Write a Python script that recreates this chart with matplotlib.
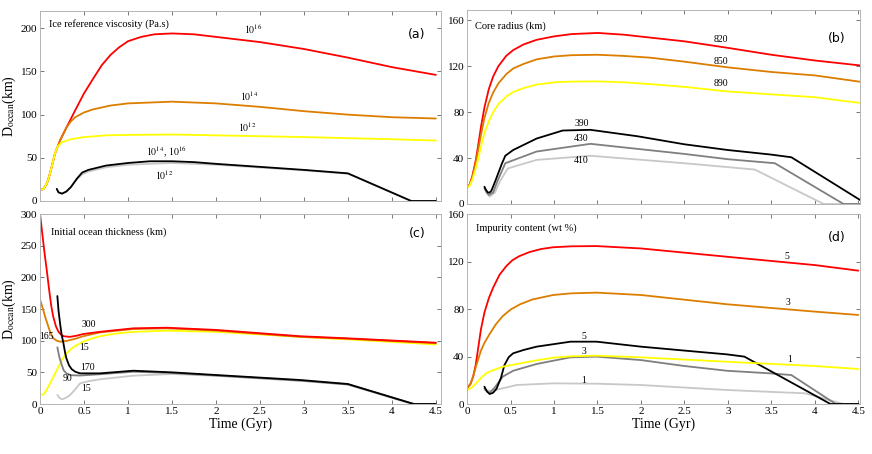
import matplotlib
matplotlib.use('Agg')
import matplotlib.pyplot as plt
import numpy as np

plt.rcParams['font.family'] = ['Liberation Serif', 'DejaVu Serif']
plt.rcParams['mathtext.fontset'] = 'stix'

# colours for the six runs
RED, ORANGE, YELLOW = '#ff0000', '#dc7d00', '#ffff00'
BLACK, GRAY, LGRAY = '#000000', '#7f7f7f', '#c8c8c8'

# ---- (a) ice reference viscosity ----
a_red_t = [0, 0.04, 0.076, 0.1, 0.133, 0.17, 0.227, 0.3, 0.4, 0.5, 0.6, 0.7, 0.8, 0.9, 1.0, 1.15, 1.3, 1.5, 1.75, 2.0, 2.5, 3.0, 3.5, 4.0, 4.5]
a_red = [12.4, 14, 20, 27, 39.5, 55, 70, 85, 105, 124.6, 141, 157, 169, 178, 185, 190, 193, 194, 193, 190, 184, 176, 166, 155, 146]
a_orange_t = [0, 0.04, 0.076, 0.1, 0.133, 0.17, 0.227, 0.3, 0.35, 0.4, 0.5, 0.6, 0.8, 1.0, 1.5, 2.0, 2.5, 3.0, 3.5, 4.0, 4.5]
a_orange = [12.4, 14, 20, 27, 39.5, 55, 70, 85, 92, 97, 102.5, 106, 110.5, 113, 115, 113, 109, 104, 100, 97, 95.5]
a_yellow_t = [0, 0.04, 0.076, 0.1, 0.133, 0.17, 0.2, 0.25, 0.35, 0.5, 0.75, 1.0, 1.5, 2.0, 3.0, 4.0, 4.5]
a_yellow = [12.4, 14, 20, 27, 39.5, 55, 63, 68, 71.5, 74, 76, 76.5, 77, 76, 74, 71.5, 70]
a_lgray_t = [0.19, 0.21, 0.25, 0.3, 0.35, 0.42, 0.48, 0.55, 0.75, 1.0, 1.5, 2.0, 3.0, 3.5, 4.22, 4.5]
a_lgray = [14, 10, 8.5, 11, 16, 25, 31, 34, 39, 42, 44, 42, 35.5, 31.5, 0, 0]
a_black_t = [0.19, 0.21, 0.25, 0.3, 0.35, 0.42, 0.48, 0.55, 0.75, 1.0, 1.25, 1.5, 1.75, 2.0, 2.5, 3.0, 3.5, 4.22, 4.5]
a_black = [14, 10, 8.5, 11, 16, 26, 33, 36, 41, 44, 46, 46, 45, 43, 39.5, 36, 32, 0, 0]

# ---- (b) core radius ----
b_red_t = [0, 0.03, 0.06, 0.1, 0.13, 0.16, 0.2, 0.25, 0.3, 0.36, 0.45, 0.53, 0.65, 0.8, 1.0, 1.2, 1.5, 1.8, 2.1, 2.5, 3.0, 3.5, 4.0, 4.52]
b_red = [14.5, 17, 24, 38, 52, 67, 84, 100, 111, 120, 129, 134, 139, 143, 146, 148, 149, 147.5, 145, 141.7, 136, 130, 125, 120.7]
b_orange_t = [0, 0.03, 0.06, 0.1, 0.13, 0.16, 0.2, 0.25, 0.3, 0.36, 0.45, 0.53, 0.65, 0.8, 1.0, 1.2, 1.5, 1.8, 2.1, 2.5, 3.0, 3.5, 4.0, 4.52]
b_orange = [14.5, 16.5, 23, 36, 48, 60, 75, 88, 97, 105, 113, 118, 122, 126, 128.5, 129.6, 130, 129, 127.5, 124, 119, 115, 112, 106.5]
b_yellow_t = [0, 0.03, 0.06, 0.1, 0.13, 0.16, 0.2, 0.25, 0.3, 0.36, 0.45, 0.53, 0.65, 0.8, 1.0, 1.2, 1.5, 1.8, 2.1, 2.5, 3.0, 3.5, 4.0, 4.52]
b_yellow = [14.5, 16, 21, 31, 40, 50, 62, 72, 80, 87, 93.5, 97.5, 101, 104, 106, 106.6, 106.8, 106, 104.5, 102, 98, 95.5, 93, 88]
b_black_t = [0.2, 0.22, 0.24, 0.26, 0.28, 0.33, 0.4, 0.44, 0.53, 0.8, 1.1, 1.42, 1.96, 2.5, 3.0, 3.5, 3.73, 4.52]
b_black = [15, 12, 10, 10, 11.5, 21, 35, 42, 47, 57, 64, 64.6, 59, 52, 47, 43, 40.7, 3.5]
b_gray_t = [0.2, 0.225, 0.25, 0.3, 0.35, 0.44, 0.8, 1.42, 2.5, 3.0, 3.54, 4.33, 4.52]
b_gray = [13.7, 10, 7.9, 10, 20, 35.5, 45.7, 52.4, 43.6, 39, 35.5, 0, 0]
b_lgray_t = [0.22, 0.24, 0.26, 0.32, 0.38, 0.47, 0.8, 1.42, 2.5, 3.31, 4.1, 4.52]
b_lgray = [11.6, 8.5, 6.4, 10, 20, 31, 38.4, 42, 35.5, 30, 0, 0]

# ---- (c) initial ocean thickness ----
c_red_t = [0, 0.02, 0.038, 0.057, 0.076, 0.095, 0.114, 0.13, 0.15, 0.18, 0.21, 0.24, 0.27, 0.34, 0.42, 0.49, 0.68, 1.06, 1.44, 2.0, 2.96, 3.5, 4.5]
c_red = [300, 276, 254, 232, 212, 190, 169, 153, 138, 123, 114, 109.5, 107, 106, 108, 110.5, 114, 119.5, 120.5, 117, 107, 103.7, 96.8]
c_orange_t = [0, 0.02, 0.038, 0.06, 0.095, 0.12, 0.15, 0.19, 0.23, 0.3, 0.4, 0.49, 0.68, 1.06, 1.44, 2.0, 2.96, 3.5, 4.5]
c_orange = [165, 156, 148, 137, 122, 112, 104, 100, 98.4, 99.5, 103, 107, 113, 118.5, 119.5, 116, 106, 103, 96]
c_yellow_t = [0, 0.038, 0.07, 0.114, 0.16, 0.21, 0.25, 0.3, 0.38, 0.49, 0.58, 0.68, 0.85, 1.06, 1.44, 2.0, 2.96, 3.5, 4.5]
c_yellow = [14.2, 15, 21, 32.6, 45, 59, 70, 80, 90, 98.4, 103, 107, 111, 114, 115.8, 114, 106, 102, 94]
c_lgray_t = [0.197, 0.22, 0.247, 0.29, 0.34, 0.4, 0.455, 0.55, 0.68, 1.06, 1.5, 2.0, 2.96, 3.5, 4.23, 4.5]
c_lgray = [14.2, 10, 7.4, 9.5, 14, 23, 32.6, 36, 39, 44.7, 47.4, 44.5, 36.5, 30.5, 0, 0]
c_gray_t = [0.197, 0.22, 0.247, 0.27, 0.3, 0.35, 0.455, 0.68, 1.06, 1.5, 2.0, 2.96, 3.5, 4.25, 4.5]
c_gray = [89.5, 74, 61.6, 53, 48.4, 45.5, 45, 47, 51, 49, 45, 37, 31, 0, 0]
c_black_t = [0.197, 0.21, 0.228, 0.245, 0.266, 0.285, 0.3, 0.33, 0.36, 0.4, 0.455, 0.68, 1.06, 1.5, 2.0, 2.96, 3.5, 4.25, 4.5]
c_black = [170.5, 148, 127, 110, 96, 81, 72, 61, 55, 51, 48.4, 48.4, 52.6, 50, 45.8, 37.9, 31.6, 0, 0]

# ---- (d) impurity content ----
d_red_t = [0, 0.04, 0.07, 0.1, 0.13, 0.16, 0.2, 0.25, 0.3, 0.375, 0.45, 0.52, 0.6, 0.72, 0.85, 0.99, 1.2, 1.49, 2.0, 2.99, 4.0, 4.5]
d_red = [13.2, 17, 23, 33, 48, 63, 77, 89, 98, 109, 116, 121, 124.5, 128, 130.5, 132, 132.8, 133, 131, 124, 117, 112.3]
d_orange_t = [0, 0.04, 0.07, 0.1, 0.13, 0.16, 0.2, 0.26, 0.33, 0.41, 0.5, 0.61, 0.75, 0.99, 1.2, 1.49, 2.0, 2.99, 4.0, 4.5]
d_orange = [13.2, 17, 23, 31, 38, 45, 51.5, 59, 67, 74, 79.5, 84, 88, 91.8, 93.2, 93.8, 91.8, 84, 77.8, 75]
d_yellow_t = [0, 0.05, 0.104, 0.16, 0.22, 0.3, 0.41, 0.61, 0.8, 0.99, 1.2, 1.49, 2.0, 2.99, 4.0, 4.5]
d_yellow = [11.8, 13.5, 17.4, 22, 25.8, 28.5, 31.4, 34.2, 36.8, 39, 40.2, 40.7, 39.3, 35.6, 32, 29.5]
d_lgray_t = [0.2, 0.28, 0.41, 0.57, 0.99, 1.49, 2.0, 2.99, 3.89, 4.33, 4.5]
d_lgray = [11.8, 11, 13.2, 16, 17.4, 17.1, 16, 11.8, 9, 0, 0]
d_gray_t = [0.2, 0.23, 0.26, 0.32, 0.41, 0.53, 0.8, 1.19, 1.49, 2.0, 2.5, 2.99, 3.49, 3.73, 4.24, 4.5]
d_gray = [13.2, 10.5, 9.5, 14, 23, 28, 33.7, 39.3, 39.9, 37, 32, 28, 25.8, 24.4, 0, 0]
d_black_t = [0.2, 0.23, 0.26, 0.3, 0.34, 0.39, 0.43, 0.48, 0.53, 0.65, 0.8, 1.19, 1.49, 2.0, 2.5, 2.99, 3.19, 4.18, 4.5]
d_black = [14.6, 10.5, 8.4, 9.5, 13, 22, 32.8, 39.5, 42.7, 45.5, 48.3, 52.5, 52.5, 48.3, 45, 41.8, 39.9, 0, 0]


def style_axes(ax, xmax, ymax, yticks, xlabels):
    ax.set_xlim(0, xmax)
    ax.set_ylim(0, ymax)
    ax.set_xticks(np.arange(0, 4.51, 0.5))
    ax.set_xticklabels(['0', '0.5', '1', '1.5', '2', '2.5', '3', '3.5', '4', '4.5'] if xlabels else [])
    ax.set_yticks(yticks)
    ax.tick_params(direction='in', length=3, width=0.6, color='#606060',
                   labelsize=8, top=True, right=True, pad=2)
    for s in ax.spines.values():
        s.set_color('#b4b4b4')
        s.set_linewidth(0.7)
    ax.patch.set_alpha(0)


def curves(ax, series):
    for t, d, c in series:
        ax.plot(t, d, color=c, lw=1.3, solid_capstyle='round', solid_joinstyle='round')


fig = plt.figure(figsize=(8.72, 4.54), dpi=100)
ax_a = fig.add_axes([0.0459, 0.5573, 0.460, 0.4185])
ax_b = fig.add_axes([0.5356, 0.5507, 0.4507, 0.4273])
ax_c = fig.add_axes([0.0459, 0.1101, 0.460, 0.4185])
ax_d = fig.add_axes([0.5356, 0.1101, 0.4507, 0.4185])

lab = dict(fontsize=7, ha='center', va='center')

# (a)
curves(ax_a, [(a_red_t, a_red, RED), (a_orange_t, a_orange, ORANGE), (a_yellow_t, a_yellow, YELLOW),
              (a_lgray_t, a_lgray, LGRAY), (a_black_t, a_black, BLACK)])
style_axes(ax_a, 4.56, 220, [0, 50, 100, 150, 200], False)
ax_a.text(0.1, 205, 'Ice reference viscosity (Pa.s)', fontsize=7.5, va='center')
ax_a.text(2.42, 199, '$10^{16}$', **lab)
ax_a.text(2.38, 121, '$10^{14}$', **lab)
ax_a.text(2.36, 85, '$10^{12}$', **lab)
ax_a.text(1.43, 56, '$10^{14}$, $10^{16}$', **lab)
ax_a.text(1.41, 30, '$10^{12}$', **lab)
ax_a.set_ylabel('D$_{\\mathrm{ocean}}$(km)', fontsize=10, labelpad=2)

# (b)
curves(ax_b, [(b_red_t, b_red, RED), (b_orange_t, b_orange, ORANGE), (b_yellow_t, b_yellow, YELLOW),
              (b_lgray_t, b_lgray, LGRAY), (b_gray_t, b_gray, GRAY), (b_black_t, b_black, BLACK)])
style_axes(ax_b, 4.52, 169, [0, 40, 80, 120, 160], False)
ax_b.text(0.09, 154.5, 'Core radius (km)', fontsize=7.5, va='center')
ax_b.text(2.92, 143, '820', **lab)
ax_b.text(2.92, 124.5, '850', **lab)
ax_b.text(2.92, 105, '890', **lab)
ax_b.text(1.32, 70, '390', **lab)
ax_b.text(1.31, 57, '430', **lab)
ax_b.text(1.31, 37.5, '410', **lab)

# (c)
curves(ax_c, [(c_yellow_t, c_yellow, YELLOW), (c_orange_t, c_orange, ORANGE), (c_red_t, c_red, RED),
              (c_lgray_t, c_lgray, LGRAY), (c_gray_t, c_gray, GRAY), (c_black_t, c_black, BLACK)])
style_axes(ax_c, 4.56, 300, [0, 50, 100, 150, 200, 250, 300], True)
ax_c.text(0.125, 272, 'Initial ocean thickness (km)', fontsize=7.5, va='center')
ax_c.text(0.55, 126, '300', **lab)
ax_c.text(0.07, 106, '165', **lab)
ax_c.text(0.5, 89, '15', **lab)
ax_c.text(0.54, 58, '170', **lab)
ax_c.text(0.31, 39.5, '90', **lab)
ax_c.text(0.52, 24, '15', **lab)
ax_c.set_ylabel('D$_{\\mathrm{ocean}}$(km)', fontsize=10, labelpad=2)
ax_c.set_xlabel('Time (Gyr)', fontsize=10, labelpad=1)

# (d)
curves(ax_d, [(d_red_t, d_red, RED), (d_orange_t, d_orange, ORANGE),
              (d_lgray_t, d_lgray, LGRAY), (d_gray_t, d_gray, GRAY), (d_black_t, d_black, BLACK),
              (d_yellow_t, d_yellow, YELLOW)])
style_axes(ax_d, 4.52, 160, [0, 40, 80, 120, 160], True)
ax_d.text(0.1, 148, 'Impurity content (wt %)', fontsize=7.5, va='center')
ax_d.text(3.68, 124, '5', **lab)
ax_d.text(3.69, 85.5, '3', **lab)
ax_d.text(3.71, 37.5, '1', **lab)
ax_d.text(1.34, 57, '5', **lab)
ax_d.text(1.35, 44.5, '3', **lab)
ax_d.text(1.34, 20, '1', **lab)
ax_d.set_xlabel('Time (Gyr)', fontsize=10, labelpad=1)

for ax, letter, fy in [(ax_a, '(a)', 0.874), (ax_b, '(b)', 0.855), (ax_c, '(c)', 0.9), (ax_d, '(d)', 0.875)]:
    ax.text(0.94, fy, letter, transform=ax.transAxes, fontsize=9,
            family='DejaVu Sans', ha='center', va='center')

fig.savefig('out.png', dpi=100)
